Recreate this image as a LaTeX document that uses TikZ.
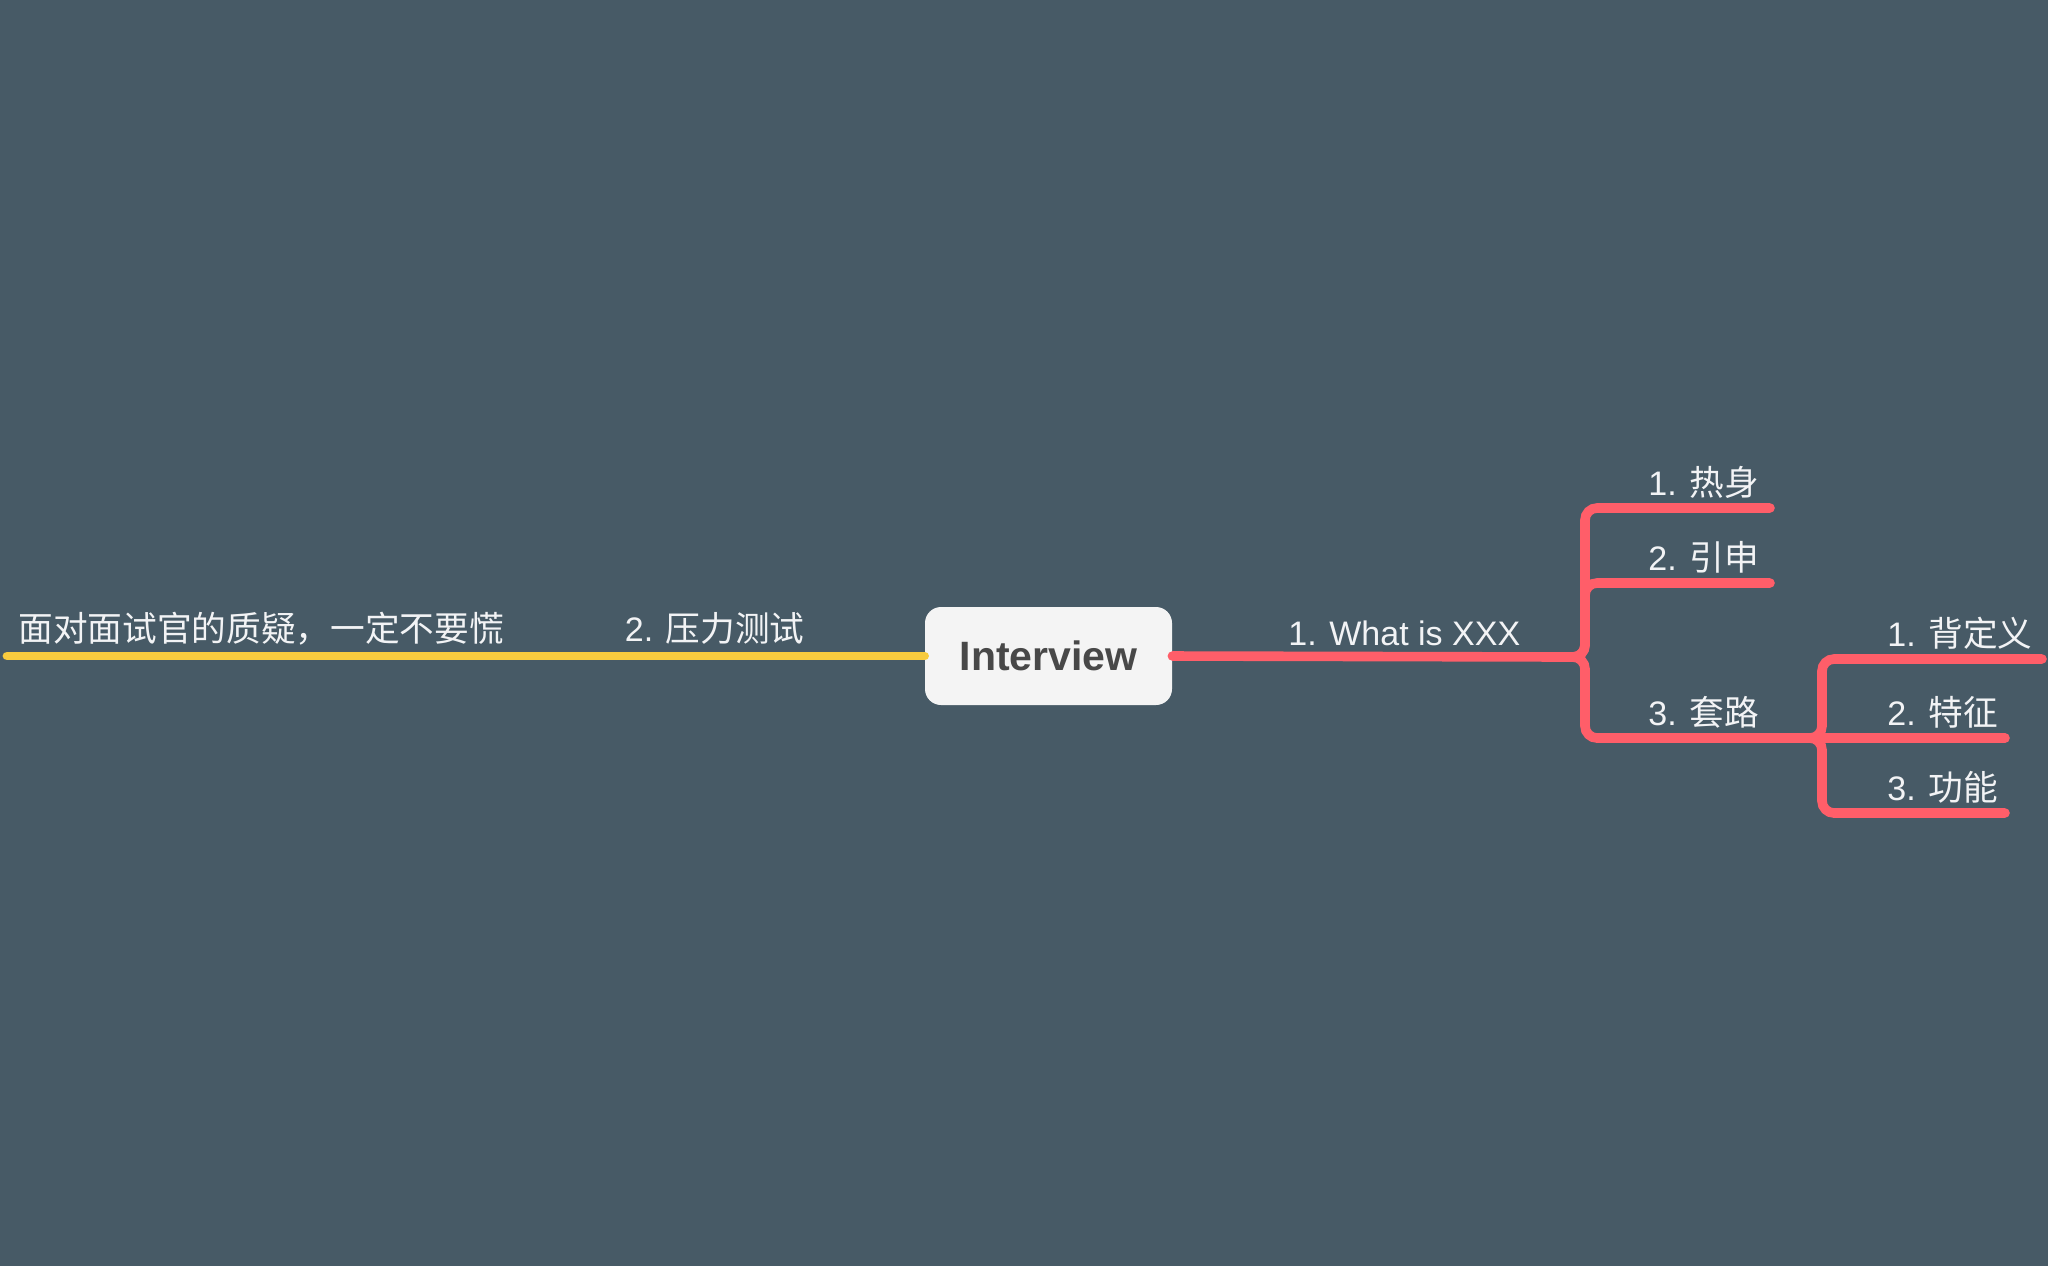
\documentclass[tikz,border=0pt]{standalone}
\usepackage{fontspec}
\setmainfont{Liberation Sans}
\newfontfamily\cjk{Noto Sans CJK SC}[Scale=1.02]
\usetikzlibrary{positioning}
\definecolor{mapbg}{HTML}{475A66}
\definecolor{mapred}{HTML}{FF5E69}
\definecolor{mapyellow}{HTML}{F8CB3E}
\definecolor{rootfill}{HTML}{F4F4F4}
\definecolor{roottext}{HTML}{484848}
\definecolor{leaftext}{HTML}{F2F3F5}

\begin{document}
\begin{tikzpicture}[x=0.5pt,y=-0.5pt,
  root/.style={fill=rootfill,rounded corners=8pt,minimum width=123.5pt,minimum height=49pt,
    inner sep=0pt,text=roottext,font=\fontsize{20.5}{24}\selectfont\bfseries},
  leaf/.style={inner sep=0pt,text=leaftext,font=\fontsize{17}{20}\selectfont},
  redline/.style={draw=mapred,line width=4.8pt,line cap=round,rounded corners=6pt},
  yellowline/.style={draw=mapyellow,line width=4.4pt,line cap=round}]
\fill[mapbg] (0,0) rectangle (2048,1266);
\useasboundingbox (0,0) rectangle (2048,1266);

\node[root] (interview) at (1048.5,656) {Interview};

% left branch
\coordinate (yend) at (7,656);
\draw[yellowline] (interview.west) -- (yend);
\node[leaf,anchor=base east] (stress) at (805,641) {2. {\cjk 压力测试}};
\node[leaf,anchor=base west] (calm) at (18,641) {\cjk 面对面试官的质疑，一定不要慌};

% right branch
\coordinate (j1) at (1570,657);
\coordinate (e11) at (1770,508);
\coordinate (e12) at (1770,583);
\coordinate (j2) at (1808,738);
\coordinate (e21) at (2042,659);
\coordinate (e22) at (2005,738);
\coordinate (e23) at (2005,813);

\draw[redline] (interview.east) -- (j1);
\draw[redline] (j1) -- ++(15,0) |- (e11);
\draw[redline] (j1) -- ++(15,0) |- (e12);
\draw[redline] (j1) -- ++(15,0) |- (j2);
\draw[redline] (j2) -- ++(14,0) |- (e21);
\draw[redline] (j2) -- (e22);
\draw[redline] (j2) -- ++(14,0) |- (e23);

\node[leaf,anchor=base west] (what) at (1288,645) {1. What is XXX};
\node[leaf,anchor=base west] (warm) at (1648,495) {1. {\cjk 热身}};
\node[leaf,anchor=base west] (extend) at (1648,570) {2. {\cjk 引申}};
\node[leaf,anchor=base west] (routine) at (1648,725) {3. {\cjk 套路}};
\node[leaf,anchor=base west] (define) at (1887,646) {1. {\cjk 背定义}};
\node[leaf,anchor=base west] (feature) at (1887,725) {2. {\cjk 特征}};
\node[leaf,anchor=base west] (function) at (1887,800) {3. {\cjk 功能}};
\end{tikzpicture}
\end{document}
